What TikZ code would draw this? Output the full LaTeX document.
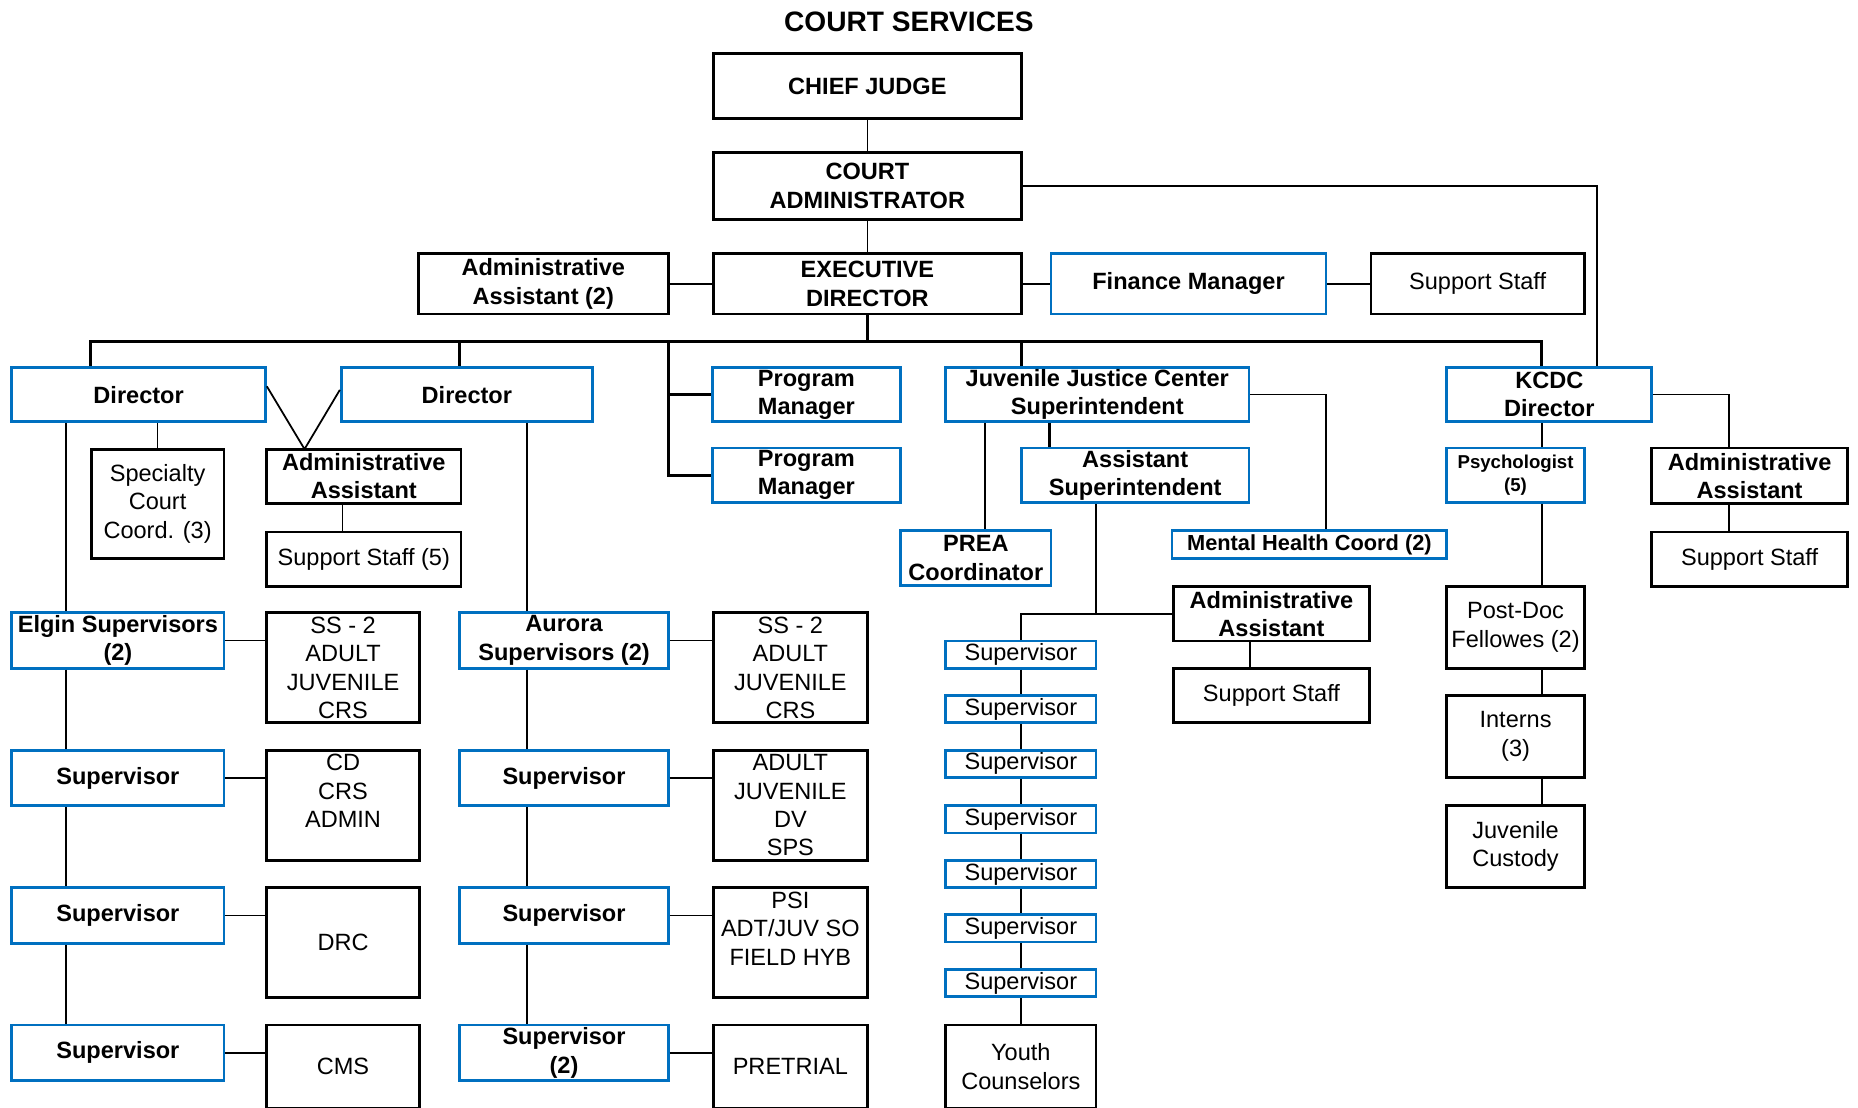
\documentclass[tikz,border=0pt]{standalone}
\usepackage{fontspec}
\setmainfont{Liberation Sans}
\definecolor{azulorg}{RGB}{0,112,192}
\newcommand{\px}{0.1185mm}
\newcommand{\fuente}{\fontsize{6.7}{8.07}\selectfont}
% puesto: estilo, nombre, x1, y1, x2, y2, texto
\newcommand{\puesto}[7]{\node[#1, minimum width={(#5-#3)*\px}, minimum height={(#6-#4)*\px}] (#2) at ({(#3+#5)/2},{(#4+#6)/2}) {#7};}
\tikzset{
  caja/.style={draw=black, line width=0.8pt, fill=white, inner sep=0pt, align=center, font=\fuente},
  bordeazul/.style={draw=azulorg},
  negrita/.style={font=\fuente\bfseries},
  linea/.style={line width=0.5pt},
  lineagruesa/.style={line width=0.85pt}
}

\begin{document}
\begin{tikzpicture}[x=\px, y=-\px]
\useasboundingbox (0,0) rectangle (1568,935);

\node[font=\fontsize{8}{9.6}\selectfont\bfseries] (titulo) at (767,18) {COURT SERVICES};

% direccion
\puesto{caja,negrita}{chief}{602}{45}{862}{100}{CHIEF JUDGE}
\puesto{caja,negrita}{cadm}{602}{129}{862}{185}{COURT\\ADMINISTRATOR}
\puesto{caja,negrita}{aa2}{353}{214}{564}{265}{Administrative\\Assistant (2)}
\puesto{caja,negrita}{exec}{602}{214}{862}{265}{EXECUTIVE\\DIRECTOR}
\puesto{caja,bordeazul,negrita}{fin}{887}{214}{1119}{265}{Finance Manager}
\puesto{caja}{ssF}{1157}{214}{1337}{265}{Support Staff}

% segundo nivel
\puesto{caja,bordeazul,negrita}{dirA}{10}{310}{224}{356}{Director}
\puesto{caja,bordeazul,negrita}{dirB}{288}{310}{500}{356}{Director}
\puesto{caja,bordeazul,negrita}{pm1}{601}{310}{760}{356}{Program\\Manager}
\puesto{caja,bordeazul,negrita}{pm2}{601}{378}{760}{424}{Program\\Manager}
\puesto{caja,bordeazul,negrita}{jjc}{798}{310}{1054}{356}{Juvenile Justice Center\\Superintendent}
\puesto{caja,bordeazul,negrita}{kcdc}{1221}{310}{1394}{356}{KCDC\\Director}

\puesto{caja}{spec}{77}{379}{189}{471}{Specialty\\Court\\Coord. (3)}
\puesto{caja,negrita}{aaD}{225}{379}{389}{425}{Administrative\\Assistant}
\puesto{caja}{ss5}{225}{449}{389}{495}{Support Staff (5)}

% Elgin
\puesto{caja,bordeazul,negrita}{elgin}{10}{517}{189}{564}{Elgin Supervisors\\(2)}
\puesto{caja}{ssA}{225}{517}{354}{610}{SS - 2\\ADULT\\JUVENILE\\CRS}
\puesto{caja,bordeazul,negrita}{supA1}{10}{633}{189}{680}{Supervisor}
\puesto{caja}{cdA}{225}{633}{354}{726}{CD\\CRS\\ADMIN\\\mbox{}}
\puesto{caja,bordeazul,negrita}{supA2}{10}{749}{189}{796}{Supervisor}
\puesto{caja}{drc}{225}{749}{354}{842}{DRC}
\puesto{caja,bordeazul,negrita}{supA3}{10}{865}{189}{912}{Supervisor}
\puesto{caja}{cms}{225}{865}{354}{935}{CMS}

% Aurora
\puesto{caja,bordeazul,negrita}{aurora}{388}{517}{564}{564}{Aurora\\Supervisors (2)}
\puesto{caja}{ssB}{602}{517}{732}{610}{SS - 2\\ADULT\\JUVENILE\\CRS}
\puesto{caja,bordeazul,negrita}{supB1}{388}{633}{564}{680}{Supervisor}
\puesto{caja}{adB}{602}{633}{732}{726}{ADULT\\JUVENILE\\DV\\SPS}
\puesto{caja,bordeazul,negrita}{supB2}{388}{749}{564}{796}{Supervisor}
\puesto{caja}{psi}{602}{749}{732}{842}{PSI\\ADT/JUV SO\\FIELD HYB\\\mbox{}}
\puesto{caja,bordeazul,negrita}{supB3}{388}{865}{564}{912}{Supervisor\\(2)}
\puesto{caja}{pre}{602}{865}{732}{935}{PRETRIAL}

% centro juvenil
\puesto{caja,bordeazul,negrita}{asup}{862}{378}{1054}{424}{Assistant\\Superintendent}
\puesto{caja,bordeazul,negrita}{prea}{760}{448}{887}{494}{PREA\\Coordinator}
\puesto{caja,bordeazul,font=\fontsize{6.2}{7.5}\selectfont\bfseries}{mh}{989}{448}{1221}{471}{Mental Health Coord (2)}
\puesto{caja,negrita}{aaJ}{990}{495}{1156}{541}{Administrative\\Assistant}
\puesto{caja}{ssJ}{990}{564}{1156}{610}{Support Staff}
\foreach \i/\t in {1/541,2/587,3/633,4/680,5/726,6/772,7/818}{
  \puesto{caja,bordeazul}{jsup\i}{798}{\t}{925}{\t+23}{Supervisor}
}
\puesto{caja}{youth}{798}{865}{925}{935}{Youth\\Counselors}

% KCDC
\puesto{caja,bordeazul,font=\fontsize{5.3}{6.4}\selectfont\bfseries}{psy}{1221}{378}{1337}{424}{Psychologist\\(5)}
\puesto{caja}{postdoc}{1221}{495}{1337}{564}{Post-Doc\\Fellowes (2)}
\puesto{caja}{interns}{1221}{587}{1337}{656}{Interns\\(3)}
\puesto{caja}{juvc}{1221}{680}{1337}{749}{Juvenile\\Custody}
\puesto{caja,negrita}{aaK}{1394}{378}{1559}{425}{Administrative\\Assistant}
\puesto{caja}{ssK}{1394}{449}{1559}{495}{Support Staff}

% conexiones
\coordinate (barraI) at (76,288);
\coordinate (barraB) at (388,288);
\coordinate (barraP) at (564,288);
\coordinate (barraJ) at (862,288);
\coordinate (barraD) at (1301,288);
\coordinate (xKC) at (1348,0);
\coordinate (espA) at (56,0);
\coordinate (espB) at (445,0);
\coordinate (aaV) at (257,379);
\coordinate (xAA) at (289,0);
\coordinate (xPREA) at (831,0);
\coordinate (xAS) at (886,0);
\coordinate (xMH) at (1119,0);
\coordinate (nudoJ) at (925,518);
\coordinate (xSSJ) at (1055,0);
\coordinate (xKA) at (1459,0);

\draw[linea] (chief.south) -- (cadm.north);
\draw[linea] (cadm.south) -- (exec.north);
\draw[linea] (aa2.east) -- (exec.west);
\draw[linea] (exec.east) -- (fin.west);
\draw[linea] (fin.east) -- (ssF.west);
\draw[linea] (cadm.east) -| (kcdc.north -| xKC);

\draw[lineagruesa] (exec.south) -- (exec.south |- barraI);
\draw[lineagruesa] (dirA.north -| barraI) -- (barraI) -- (barraD) -- (kcdc.north -| barraD);
\draw[lineagruesa] (barraB) -- (dirB.north -| barraB);
\draw[lineagruesa] (barraP) |- (pm2.west);
\draw[lineagruesa] (pm1.west) -- (pm1.west -| barraP);
\draw[lineagruesa] (barraJ) -- (jjc.north -| barraJ);

\draw[linea] (spec.north |- dirA.south) -- (spec.north);
\draw[linea] ([yshift=7*\px]dirA.east) -- (aaV) -- ([yshift=4*\px]dirB.west);
\draw[linea] (aaD.south -| xAA) -- (ss5.north -| xAA);

\draw[linea] (dirA.south -| espA) -- (elgin.north -| espA);
\foreach \a/\b in {elgin/supA1, supA1/supA2, supA2/supA3}
  \draw[linea] (\a.south -| espA) -- (\b.north -| espA);
\draw[linea] (dirB.south -| espB) -- (aurora.north -| espB);
\foreach \a/\b in {aurora/supB1, supB1/supB2, supB2/supB3}
  \draw[linea] (\a.south -| espB) -- (\b.north -| espB);
\foreach \a/\b in {elgin/ssA, supA1/cdA, supA2/drc, supA3/cms, aurora/ssB, supB1/adB, supB2/psi, supB3/pre}
  \draw[linea] (\a.east) -- (\a.east -| \b.west);

\draw[linea] (jjc.south -| xPREA) -- (prea.north -| xPREA);
\draw[lineagruesa] (jjc.south -| xAS) -- (asup.north -| xAS);
\draw[linea] (jjc.east) -| (mh.north -| xMH);
\draw[linea] (asup.south -| nudoJ) -- (nudoJ);
\draw[linea] (jsup1.north) |- (aaJ.west);
\draw[linea] (aaJ.south -| xSSJ) -- (ssJ.north -| xSSJ);
\foreach \a/\b in {jsup1/jsup2, jsup2/jsup3, jsup3/jsup4, jsup4/jsup5, jsup5/jsup6, jsup6/jsup7, jsup7/youth}
  \draw[linea] (\a.south) -- (\b.north);

\foreach \a/\b in {kcdc/psy, psy/postdoc, postdoc/interns, interns/juvc}
  \draw[linea] (\a.south -| barraD) -- (\b.north -| barraD);
\draw[linea] (kcdc.east) -| (aaK.north -| xKA);
\draw[linea] (aaK.south -| xKA) -- (ssK.north -| xKA);
\end{tikzpicture}
\end{document}
